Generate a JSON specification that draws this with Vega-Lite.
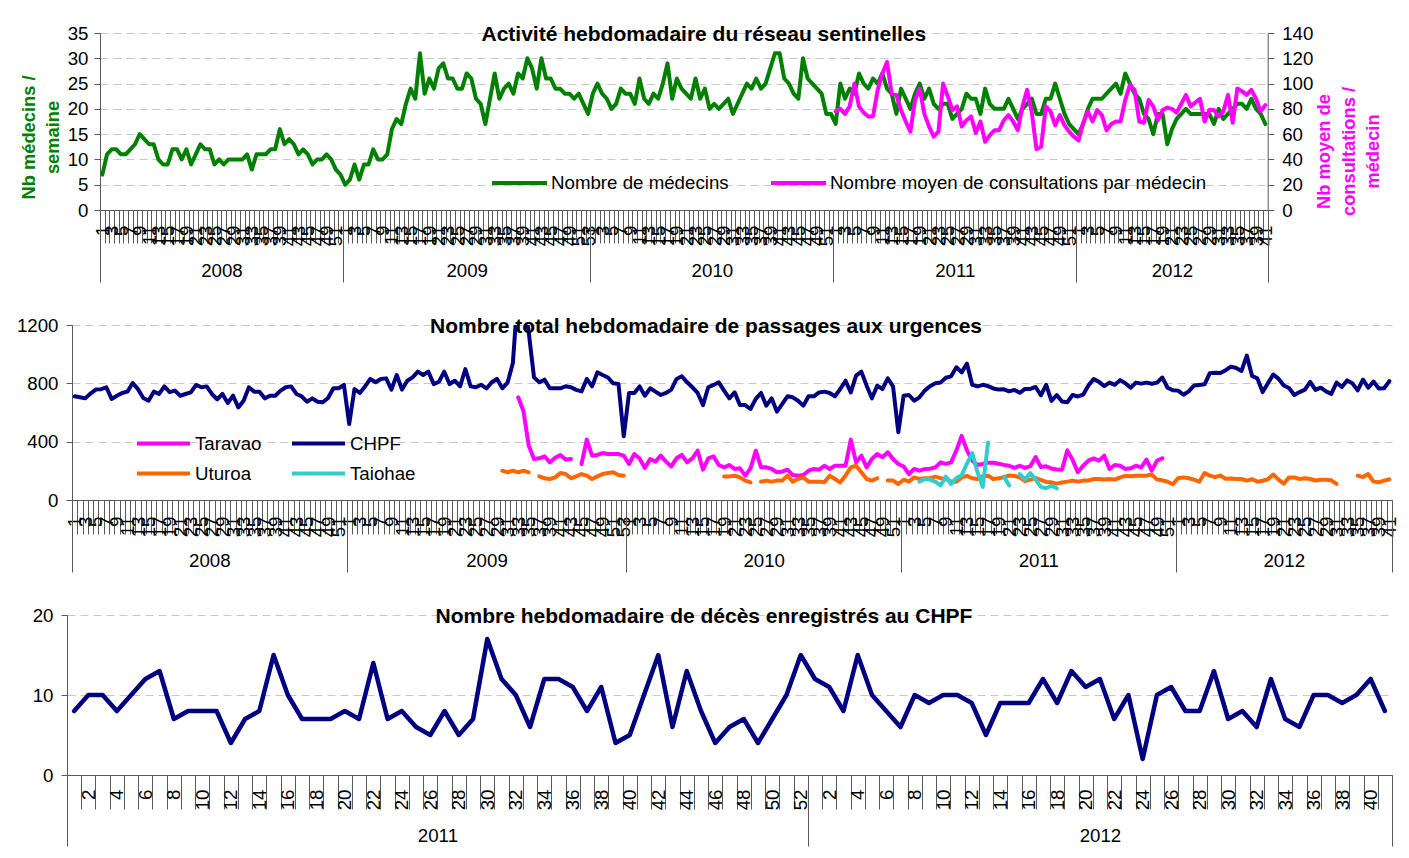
{
  "$schema": "https://vega.github.io/schema/vega-lite/v6.json",
  "background": "white",
  "padding": {"left": 16, "top": 24, "right": 5, "bottom": 5},
  "spacing": 33,
  "resolve": {"scale": {"color": "independent"}, "legend": {"color": "independent"}},
  "config": {
    "font": "Liberation Sans",
    "view": {"stroke": null},
    "axis": {"labelFont": "Liberation Sans", "labelFontSize": 18.7, "labelColor": "#000000", "titleFont": "Liberation Sans", "domainColor": "#595959", "tickColor": "#595959", "gridColor": "#c8c8c8", "gridDash": [8, 5]},
    "legend": {"labelFont": "Liberation Sans", "labelFontSize": 18.7, "labelColor": "#000000", "labelLimit": 500},
    "title": {"font": "Liberation Sans", "fontSize": 21, "fontWeight": "bold", "color": "#000000", "anchor": "middle", "frame": "group", "baseline": "middle", "offset": -21},
    "line": {"strokeWidth": 4, "strokeJoin": "round", "strokeCap": "round"}
  },
  "datasets": {
    "w": [
{"i":0,"g":7,"c":711},{"i":1,"g":11,"c":704},{"i":2,"g":12,"c":697},{"i":3,"g":12,"c":730},{"i":4,"g":11,"c":757},{"i":5,"g":11,"c":760},{"i":6,"g":12,"c":773},{"i":7,"g":13,"c":693},{"i":8,"g":15,"c":715},{"i":9,"g":14,"c":734},
{"i":10,"g":13,"c":743},{"i":11,"g":13,"c":802},{"i":12,"g":10,"c":760},{"i":13,"g":9,"c":700},{"i":14,"g":9,"c":681},{"i":15,"g":12,"c":743},{"i":16,"g":12,"c":727},{"i":17,"g":10,"c":779},{"i":18,"g":12,"c":740},{"i":19,"g":9,"c":750},
{"i":20,"g":11,"c":715},{"i":21,"g":13,"c":727},{"i":22,"g":12,"c":738},{"i":23,"g":12,"c":789},{"i":24,"g":9,"c":773},{"i":25,"g":10,"c":779},{"i":26,"g":9,"c":727},{"i":27,"g":10,"c":690},{"i":28,"g":10,"c":727},{"i":29,"g":10,"c":665},
{"i":30,"g":10,"c":715},{"i":31,"g":11,"c":635},{"i":32,"g":8,"c":681},{"i":33,"g":11,"c":773},{"i":34,"g":11,"c":743},{"i":35,"g":11,"c":743},{"i":36,"g":12,"c":697},{"i":37,"g":12,"c":715},{"i":38,"g":16,"c":715},{"i":39,"g":13,"c":750},
{"i":40,"g":14,"c":773},{"i":41,"g":13,"c":779},{"i":42,"g":11,"c":727},{"i":43,"g":12,"c":711},{"i":44,"g":11,"c":674},{"i":45,"g":9,"c":697},{"i":46,"g":10,"c":674},{"i":47,"g":10,"c":670},{"i":48,"g":11,"c":700},{"i":49,"g":10,"c":766},
{"i":50,"g":8,"c":766},{"i":51,"g":7,"c":789},
{"i":52,"g":5,"c":521},{"i":53,"g":6,"c":761},{"i":54,"g":9,"c":734},{"i":55,"g":6,"c":779},{"i":56,"g":9,"c":830},{"i":57,"g":9,"c":807},{"i":58,"g":12,"c":830},{"i":59,"g":10,"c":834},
{"i":60,"g":10,"c":757},{"i":61,"g":11,"c":857},{"i":62,"g":16,"c":757},{"i":63,"g":18,"c":818},{"i":64,"g":17,"c":841},{"i":65,"g":21,"c":880},{"i":66,"g":24,"c":857},{"i":67,"g":22,"c":880},{"i":68,"g":31,"c":795},{"i":69,"g":23,"c":811},
{"i":70,"g":26,"c":880},{"i":71,"g":24,"c":795},{"i":72,"g":28,"c":818},{"i":73,"g":29,"c":779},{"i":74,"g":26,"c":898},{"i":75,"g":26,"c":779},{"i":76,"g":24,"c":773},{"i":77,"g":24,"c":790},{"i":78,"g":27,"c":765},{"i":79,"g":26,"c":807},
{"i":80,"g":22,"c":830},{"i":81,"g":21,"c":766,"u":201},{"i":82,"g":17,"c":805,"u":190},{"i":83,"g":22,"c":940,"u":201},{"i":84,"g":27,"c":1450,"r":704,"u":190},{"i":85,"g":22,"c":1400,"r":610,"u":201},{"i":86,"g":24,"c":1150,"r":373,"u":190},{"i":87,"g":25,"c":841,"r":281},{"i":88,"g":23,"c":807,"r":286,"u":162},{"i":89,"g":27,"c":825,"r":299,"u":149},
{"i":90,"g":26,"c":766,"r":258,"u":144},{"i":91,"g":30,"c":766,"r":290,"u":155},{"i":92,"g":28,"c":766,"r":309,"u":185},{"i":93,"g":24,"c":780,"r":277,"u":178},{"i":94,"g":30,"c":773,"r":281,"u":149},{"i":95,"g":26,"c":755,"u":162},{"i":96,"g":26,"c":745,"r":247,"u":178},{"i":97,"g":24,"c":830,"r":414,"u":167},{"i":98,"g":24,"c":779,"r":304,"u":144},{"i":99,"g":23,"c":875,"r":309,"u":162},
{"i":100,"g":23,"c":857,"r":322,"u":178},{"i":101,"g":22,"c":840,"r":315,"u":185},{"i":102,"g":23,"c":800,"r":315,"u":190},{"i":103,"g":21,"c":795,"r":315,"u":171},{"i":104,"g":19,"c":437,"r":304,"u":167},
{"i":105,"g":23,"c":734,"r":247},{"i":106,"g":25,"c":734,"r":315},{"i":107,"g":23,"c":779,"r":285},{"i":108,"g":22,"c":715,"r":220},{"i":109,"g":20,"c":766,"r":281},
{"i":110,"g":21,"c":743,"r":263},{"i":111,"g":24,"c":720,"r":304},{"i":112,"g":23,"c":734,"r":263},{"i":113,"g":23,"c":757,"r":230},{"i":114,"g":21,"c":830,"r":286},{"i":115,"g":26,"c":848,"r":309},{"i":116,"g":22,"c":807,"r":258},{"i":117,"g":21,"c":773,"r":286},{"i":118,"g":23,"c":734,"r":338},{"i":119,"g":22,"c":651,"r":208},
{"i":120,"g":25,"c":773,"r":286},{"i":121,"g":29,"c":789,"r":299},{"i":122,"g":22,"c":807,"r":240},{"i":123,"g":26,"c":750,"r":224,"u":162},{"i":124,"g":24,"c":697,"r":240,"u":162},{"i":125,"g":23,"c":738,"r":213,"u":167},{"i":126,"g":22,"c":651,"r":217,"u":155},{"i":127,"g":26,"c":651,"r":167,"u":133},{"i":128,"g":22,"c":624,"r":217,"u":121},{"i":129,"g":24,"c":693,"r":338},
{"i":130,"g":20,"c":734,"r":224,"u":126},{"i":131,"g":21,"c":647,"r":224,"u":133},{"i":132,"g":20,"c":697,"r":213,"u":126},{"i":133,"g":21,"c":606,"r":190,"u":133},{"i":134,"g":22,"c":658,"r":194,"u":133},{"i":135,"g":19,"c":711,"r":208,"u":167},{"i":136,"g":21,"c":704,"r":171,"u":126},{"i":137,"g":23,"c":681,"r":167,"u":144},{"i":138,"g":25,"c":647,"r":171,"u":155},{"i":139,"g":24,"c":711,"r":201,"u":126},
{"i":140,"g":26,"c":711,"r":213,"u":126},{"i":141,"g":24,"c":738,"r":208,"u":126},{"i":142,"g":25,"c":743,"r":235,"u":121},{"i":143,"g":28,"c":734,"r":213,"u":167},{"i":144,"g":31,"c":711,"r":235,"u":144},{"i":145,"g":31,"c":761,"r":235,"u":121},{"i":146,"g":26,"c":818,"r":235,"u":167},{"i":147,"g":25,"c":738,"r":414,"u":224},{"i":148,"g":23,"c":853,"r":258,"u":235},{"i":149,"g":22,"c":880,"r":304,"u":190},
{"i":150,"g":30,"c":784,"r":224,"u":144},{"i":151,"g":26,"c":697,"r":281,"u":133},{"i":152,"g":25,"c":784,"r":315,"u":149},{"i":153,"g":24,"c":761,"r":293},{"i":154,"g":23,"c":834,"r":327,"u":133},{"i":155,"g":19,"c":779,"r":281,"u":133},{"i":156,"g":19,"c":464,"r":247,"u":110},
{"i":157,"g":17,"m":78,"c":715,"r":230,"u":139},{"i":158,"g":25,"m":80,"c":720,"r":178,"u":126},{"i":159,"g":22,"m":76,"c":681,"r":213,"u":155},
{"i":160,"g":24,"m":82,"c":704,"r":201,"u":144,"h":126},{"i":161,"g":23,"m":100,"c":750,"r":212,"u":150,"h":144},{"i":162,"g":27,"m":82,"c":780,"r":215,"u":150,"h":140},{"i":163,"g":25,"m":77,"c":800,"r":224,"u":160,"h":126},{"i":164,"g":24,"m":74,"c":805,"r":258,"u":150,"h":100},{"i":165,"g":26,"m":74,"c":838,"r":248,"u":144,"h":160},{"i":166,"g":25,"m":95,"c":848,"r":258,"u":126,"h":110},{"i":167,"g":27,"m":108,"c":910,"r":340,"u":126,"h":150},{"i":168,"g":24,"m":117,"c":875,"r":440,"u":155,"h":170},{"i":169,"g":23,"m":92,"c":935,"r":340,"u":165,"h":250},
{"i":170,"g":19,"m":91,"c":790,"r":270,"u":149,"h":322},{"i":171,"g":24,"m":79,"c":779,"r":240,"u":144,"h":190},{"i":172,"g":22,"m":70,"c":790,"r":247,"u":162,"h":90},{"i":173,"g":20,"m":62,"c":781,"r":256,"u":167,"h":395},{"i":174,"g":23,"m":87,"c":765,"r":255,"u":144},{"i":175,"g":25,"m":96,"c":757,"r":248,"u":149},{"i":176,"g":22,"m":76,"c":759,"r":241,"u":155,"h":160},{"i":177,"g":24,"m":66,"c":745,"r":235,"u":168,"h":100},{"i":178,"g":21,"m":58,"c":755,"r":220,"u":165},{"i":179,"g":20,"m":62,"c":735,"r":235,"u":155,"h":178},
{"i":180,"g":21,"m":100,"c":762,"r":220,"u":130,"h":140},{"i":181,"g":21,"m":90,"c":762,"r":232,"u":140,"h":185},{"i":182,"g":18,"m":79,"c":775,"r":295,"u":150,"h":140},{"i":183,"g":19,"m":82,"c":718,"r":226,"u":138,"h":90},{"i":184,"g":20,"m":66,"c":790,"r":231,"u":124,"h":80},{"i":185,"g":23,"m":71,"c":680,"r":216,"u":121,"h":98},{"i":186,"g":22,"m":74,"c":720,"r":209,"u":112,"h":80},{"i":187,"g":22,"m":61,"c":675,"r":208,"u":120},{"i":188,"g":19,"m":70,"c":670,"r":340,"u":126},{"i":189,"g":24,"m":54,"c":720,"r":275,"u":133},
{"i":190,"g":21,"m":59,"c":710,"r":190,"u":126},{"i":191,"g":20,"m":63,"c":722,"r":235,"u":133},{"i":192,"g":20,"m":63,"c":785,"r":270,"u":133},{"i":193,"g":20,"m":71,"c":830,"r":285,"u":144},{"i":194,"g":22,"m":75,"c":810,"r":270,"u":144},{"i":195,"g":20,"m":70,"c":781,"r":304,"u":140},{"i":196,"g":18,"m":63,"c":805,"r":213,"u":144},{"i":197,"g":20,"m":82,"c":790,"r":240,"u":140},{"i":198,"g":21,"m":95,"c":822,"r":235,"u":155},{"i":199,"g":22,"m":77,"c":800,"r":213,"u":165},
{"i":200,"g":19,"m":48,"c":770,"r":217,"u":163},{"i":201,"g":19,"m":50,"c":805,"r":235,"u":167},{"i":202,"g":22,"m":82,"c":798,"r":224,"u":167},{"i":203,"g":22,"m":78,"c":805,"r":277,"u":167},{"i":204,"g":25,"m":67,"c":797,"r":201,"u":175},{"i":205,"g":22,"m":75,"c":805,"r":270,"u":140},{"i":206,"g":19,"m":67,"c":840,"r":286,"u":135},{"i":207,"g":17,"m":62,"c":770,"u":125},{"i":208,"g":16,"m":58,"c":752,"u":108},
{"i":209,"g":15,"m":55,"c":750,"u":150},{"i":210,"g":17,"m":69,"c":722,"u":155},{"i":211,"g":20,"m":78,"c":745,"u":149},{"i":212,"g":22,"m":70,"c":785,"u":140},{"i":213,"g":22,"m":79,"c":789,"u":125},{"i":214,"g":22,"m":75,"c":793,"u":185},{"i":215,"g":23,"m":63,"c":870,"u":167},{"i":216,"g":24,"m":68,"c":873,"u":157},{"i":217,"g":25,"m":70,"c":871,"u":168},{"i":218,"g":23,"m":70,"c":890,"u":145},{"i":219,"g":27,"m":87,"c":915,"u":148},
{"i":220,"g":25,"m":99,"c":905,"u":144},{"i":221,"g":23,"m":95,"c":885,"u":144},{"i":222,"g":22,"m":70,"c":990,"u":133},{"i":223,"g":19,"m":69,"c":850,"u":142},{"i":224,"g":18,"m":87,"c":834,"u":126},{"i":225,"g":15,"m":82,"c":740,"u":132},{"i":226,"g":19,"m":71,"c":800,"u":142},{"i":227,"g":19,"m":79,"c":860,"u":175},{"i":228,"g":13,"m":81,"c":832,"u":140},{"i":229,"g":16,"m":80,"c":785,"u":112},
{"i":230,"g":18,"m":77,"c":768,"u":155},{"i":231,"g":19,"m":84,"c":720,"u":155},{"i":232,"g":20,"m":91,"c":740,"u":144},{"i":233,"g":19,"m":82,"c":757,"u":149},{"i":234,"g":19,"m":85,"c":810,"u":144},{"i":235,"g":19,"m":88,"c":755,"u":134},{"i":236,"g":19,"m":70,"c":770,"u":139},{"i":237,"g":19,"m":79,"c":745,"u":139},{"i":238,"g":17,"m":79,"c":728,"u":135},{"i":239,"g":20,"m":74,"c":805,"u":110},
{"i":240,"g":18,"m":78,"c":775},{"i":241,"g":19,"m":91,"c":820},{"i":242,"g":20,"m":69,"c":800},{"i":243,"g":21,"m":96,"c":752,"u":167},{"i":244,"g":21,"m":94,"c":825,"u":157},{"i":245,"g":20,"m":91,"c":770,"u":178},{"i":246,"g":22,"m":95,"c":812,"u":126},{"i":247,"g":20,"m":88,"c":765,"u":121},{"i":248,"g":19,"m":78,"c":766,"u":133},{"i":249,"g":17,"m":83,"c":815,"u":142}
    ],
    "d": [
{"i":0,"v":8},{"i":1,"v":10},{"i":2,"v":10},{"i":3,"v":8},{"i":4,"v":10},{"i":5,"v":12},{"i":6,"v":13},{"i":7,"v":7},{"i":8,"v":8},{"i":9,"v":8},
{"i":10,"v":8},{"i":11,"v":4},{"i":12,"v":7},{"i":13,"v":8},{"i":14,"v":15},{"i":15,"v":10},{"i":16,"v":7},{"i":17,"v":7},{"i":18,"v":7},{"i":19,"v":8},
{"i":20,"v":7},{"i":21,"v":14},{"i":22,"v":7},{"i":23,"v":8},{"i":24,"v":6},{"i":25,"v":5},{"i":26,"v":8},{"i":27,"v":5},{"i":28,"v":7},{"i":29,"v":17},
{"i":30,"v":12},{"i":31,"v":10},{"i":32,"v":6},{"i":33,"v":12},{"i":34,"v":12},{"i":35,"v":11},{"i":36,"v":8},{"i":37,"v":11},{"i":38,"v":4},{"i":39,"v":5},
{"i":40,"v":10},{"i":41,"v":15},{"i":42,"v":6},{"i":43,"v":13},{"i":44,"v":8},{"i":45,"v":4},{"i":46,"v":6},{"i":47,"v":7},{"i":48,"v":4},{"i":49,"v":7},
{"i":50,"v":10},{"i":51,"v":15},
{"i":52,"v":12},{"i":53,"v":11},{"i":54,"v":8},{"i":55,"v":15},{"i":56,"v":10},{"i":57,"v":8},{"i":58,"v":6},{"i":59,"v":10},
{"i":60,"v":9},{"i":61,"v":10},{"i":62,"v":10},{"i":63,"v":9},{"i":64,"v":5},{"i":65,"v":9},{"i":66,"v":9},{"i":67,"v":9},{"i":68,"v":12},{"i":69,"v":9},
{"i":70,"v":13},{"i":71,"v":11},{"i":72,"v":12},{"i":73,"v":7},{"i":74,"v":10},{"i":75,"v":2},{"i":76,"v":10},{"i":77,"v":11},{"i":78,"v":8},{"i":79,"v":8},
{"i":80,"v":13},{"i":81,"v":7},{"i":82,"v":8},{"i":83,"v":6},{"i":84,"v":12},{"i":85,"v":7},{"i":86,"v":6},{"i":87,"v":10},{"i":88,"v":10},{"i":89,"v":9},
{"i":90,"v":10},{"i":91,"v":12},{"i":92,"v":8}
    ]
  },
  "vconcat": [
    {
      "title": {"text": "Activité hebdomadaire du réseau sentinelles", "dx": 34},
      "width": 1195.7,
      "height": 177,
      "data": {"name": "w"},
      "layer": [
        {
          "mark": {"type": "line"},
          "encoding": {
            "x": {"field": "i", "type": "quantitative", "scale": {"domain": [-0.5, 249.5], "range": [28, 1195.7], "nice": false, "zero": false}, "axis": null},
            "y": {"field": "g", "type": "quantitative",
              "scale": {"domain": [0, 35], "nice": false},
              "axis": {"orient": "left", "offset": -28, "values": [0, 5, 10, 15, 20, 25, 30, 35], "grid": true, "tickSize": 6, "labelPadding": 6,
                "title": ["Nb médecins /", "semaine"], "titleColor": "#008000", "titleFontSize": 18.3, "titleFontWeight": "bold",
                "titleX": -62, "titleY": 104, "titleAngle": 270, "titleBaseline": "bottom", "titleAlign": "center", "titleLineHeight": 24}},
            "color": {"datum": "Nombre de médecins",
              "scale": {"domain": ["Nombre de médecins", "Nombre moyen de consultations par médecin"], "range": ["#008000", "#FF00FF"]},
              "legend": {"orient": "none", "legendX": 418, "legendY": 139, "direction": "horizontal", "title": null, "symbolType": "stroke", "symbolSize": 3025, "symbolStrokeWidth": 5, "clipHeight": 22, "columnPadding": 40, "labelOffset": 2, "labelLimit": 500}}
          }
        },
        {
          "mark": {"type": "line"},
          "encoding": {
            "x": {"field": "i", "type": "quantitative", "scale": {"domain": [-0.5, 249.5], "range": [28, 1195.7], "nice": false, "zero": false}, "axis": null},
            "y": {"field": "m", "type": "quantitative",
              "scale": {"domain": [0, 140], "nice": false},
              "axis": {"orient": "right", "values": [0, 20, 40, 60, 80, 100, 120, 140], "grid": false, "tickSize": 6, "labelPadding": 8,
                "title": ["Nb moyen de", "consultations /", "médecin"], "titleColor": "#FF00FF", "titleFontSize": 18.3, "titleFontWeight": "bold",
                "titleX": 48, "titleY": 118, "titleAngle": 270, "titleBaseline": "top", "titleAlign": "center", "titleLineHeight": 24.5}},
            "color": {"datum": "Nombre moyen de consultations par médecin"}
          }
        },
        {
          "mark": {"type": "point", "opacity": 0, "clip": true},
          "encoding": {
            "x": {"field": "i", "type": "quantitative", "scale": {"domain": [0, 250], "range": [28, 1195.7], "nice": false, "zero": false},
              "axis": {"orient": "bottom", "title": null, "grid": false, "domain": true, "labels": false, "tickCount": 250, "tickSize": 33}},
            "y": {"field": "g", "type": "quantitative", "scale": {"domain": [0, 35], "nice": false}, "axis": null}
          }
        },
        {
          "mark": {"type": "point", "opacity": 0, "clip": true},
          "encoding": {
            "x": {"field": "i", "type": "quantitative", "scale": {"domain": [-0.5, 249.5], "range": [28, 1195.7], "nice": false, "zero": false},
              "axis": {"orient": "bottom", "title": null, "grid": false, "domain": false, "ticks": false, "tickSize": 0, "tickCount": 250, "labelAngle": 270, "labelPadding": 15, "labelOverlap": false, "labelFlush": false,
                "labelExpr": "(datum.value < 52 ? datum.value + 1 : datum.value < 105 ? datum.value - 51 : datum.value < 157 ? datum.value - 104 : datum.value < 209 ? datum.value - 156 : datum.value - 208) % 2 == 1 ? '' + (datum.value < 52 ? datum.value + 1 : datum.value < 105 ? datum.value - 51 : datum.value < 157 ? datum.value - 104 : datum.value < 209 ? datum.value - 156 : datum.value - 208) : ''"}},
            "y": {"field": "g", "type": "quantitative", "scale": {"domain": [0, 35], "nice": false}, "axis": null}
          }
        },
        {
          "mark": {"type": "point", "opacity": 0, "clip": true},
          "encoding": {
            "x": {"field": "i", "type": "quantitative", "scale": {"domain": [-0.5, 249.5], "range": [28, 1195.7], "nice": false, "zero": false},
              "axis": {"orient": "bottom", "title": null, "grid": false, "domain": false, "values": [-0.5, 25.5, 51.5, 78, 104.5, 130.5, 156.5, 182.5, 208.5, 229, 249.5],
                "labelExpr": "datum.value == 25.5 ? '2008' : datum.value == 78 ? '2009' : datum.value == 130.5 ? '2010' : datum.value == 182.5 ? '2011' : datum.value == 229 ? '2012' : ''",
                "tickSize": 72, "tickOpacity": {"condition": {"test": "datum.value == 25.5 || datum.value == 78 || datum.value == 130.5 || datum.value == 182.5 || datum.value == 229", "value": 0}, "value": 1},
                "labelAngle": 0, "labelAlign": "center", "labelBaseline": "top", "labelPadding": -21, "labelOverlap": false, "labelFlush": false}},
            "y": {"field": "g", "type": "quantitative", "scale": {"domain": [0, 35], "nice": false}, "axis": null}
          }
        }
      ],
      "resolve": {"scale": {"x": "independent", "y": "independent"}}
    },
    {
      "title": {"text": "Nombre total hebdomadaire de passages aux urgences", "dx": -26},
      "width": 1320,
      "height": 175,
      "data": {"name": "w"},
      "layer": [
        {
          "mark": {"type": "line", "clip": true},
          "encoding": {
            "x": {"field": "i", "type": "quantitative", "scale": {"domain": [-0.5, 249.5], "nice": false, "zero": false}, "axis": null},
            "y": {"field": "c", "type": "quantitative", "title": null,
              "scale": {"domain": [0, 1200], "nice": false},
              "axis": {"orient": "left", "values": [0, 200, 400, 600, 800, 1000, 1200], "format": "d", "grid": true, "tickSize": 6, "labelPadding": 8}},
            "color": {"datum": "CHPF",
              "scale": {"domain": ["Taravao", "Uturoa", "CHPF", "Taiohae"], "range": ["#FF00FF", "#FF6600", "#000080", "#33CCCC"]},
              "legend": {"orient": "none", "legendX": 63, "legendY": 108, "columns": 2, "title": null, "symbolType": "stroke", "symbolSize": 2809, "symbolStrokeWidth": 5, "clipHeight": 21, "columnPadding": 28, "rowPadding": 9, "labelOffset": 3}}
          }
        },
        {
          "mark": {"type": "line"},
          "encoding": {
            "x": {"field": "i", "type": "quantitative", "scale": {"domain": [-0.5, 249.5], "nice": false, "zero": false}, "axis": null},
            "y": {"field": "r", "type": "quantitative", "title": null, "scale": {"domain": [0, 1200], "nice": false}},
            "color": {"datum": "Taravao"}
          }
        },
        {
          "mark": {"type": "line"},
          "encoding": {
            "x": {"field": "i", "type": "quantitative", "scale": {"domain": [-0.5, 249.5], "nice": false, "zero": false}, "axis": null},
            "y": {"field": "u", "type": "quantitative", "title": null, "scale": {"domain": [0, 1200], "nice": false}},
            "color": {"datum": "Uturoa"}
          }
        },
        {
          "mark": {"type": "line"},
          "encoding": {
            "x": {"field": "i", "type": "quantitative", "scale": {"domain": [-0.5, 249.5], "nice": false, "zero": false}, "axis": null},
            "y": {"field": "h", "type": "quantitative", "title": null, "scale": {"domain": [0, 1200], "nice": false}},
            "color": {"datum": "Taiohae"}
          }
        },
        {
          "mark": {"type": "point", "opacity": 0, "clip": true},
          "encoding": {
            "x": {"field": "i", "type": "quantitative", "scale": {"domain": [0, 250], "nice": false, "zero": false},
              "axis": {"orient": "bottom", "title": null, "grid": false, "domain": true, "labels": false, "tickCount": 250, "tickSize": 34}},
            "y": {"field": "g", "type": "quantitative", "title": null, "scale": {"domain": [0, 1200], "nice": false}}
          }
        },
        {
          "mark": {"type": "point", "opacity": 0, "clip": true},
          "encoding": {
            "x": {"field": "i", "type": "quantitative", "scale": {"domain": [-0.5, 249.5], "nice": false, "zero": false},
              "axis": {"orient": "bottom", "title": null, "grid": false, "domain": false, "ticks": false, "tickSize": 0, "tickCount": 250, "labelAngle": 270, "labelPadding": 16, "labelOverlap": false, "labelFlush": false,
                "labelExpr": "(datum.value < 52 ? datum.value + 1 : datum.value < 105 ? datum.value - 51 : datum.value < 157 ? datum.value - 104 : datum.value < 209 ? datum.value - 156 : datum.value - 208) % 2 == 1 ? '' + (datum.value < 52 ? datum.value + 1 : datum.value < 105 ? datum.value - 51 : datum.value < 157 ? datum.value - 104 : datum.value < 209 ? datum.value - 156 : datum.value - 208) : ''"}},
            "y": {"field": "g", "type": "quantitative", "title": null, "scale": {"domain": [0, 1200], "nice": false}}
          }
        },
        {
          "mark": {"type": "point", "opacity": 0, "clip": true},
          "encoding": {
            "x": {"field": "i", "type": "quantitative", "scale": {"domain": [-0.5, 249.5], "nice": false, "zero": false},
              "axis": {"orient": "bottom", "title": null, "grid": false, "domain": false, "values": [-0.5, 25.5, 51.5, 78, 104.5, 130.5, 156.5, 182.5, 208.5, 229, 249.5],
                "labelExpr": "datum.value == 25.5 ? '2008' : datum.value == 78 ? '2009' : datum.value == 130.5 ? '2010' : datum.value == 182.5 ? '2011' : datum.value == 229 ? '2012' : ''",
                "tickSize": 72, "tickOpacity": {"condition": {"test": "datum.value == 25.5 || datum.value == 78 || datum.value == 130.5 || datum.value == 182.5 || datum.value == 229", "value": 0}, "value": 1},
                "labelAngle": 0, "labelAlign": "center", "labelBaseline": "top", "labelPadding": -21, "labelOverlap": false, "labelFlush": false}},
            "y": {"field": "g", "type": "quantitative", "title": null, "scale": {"domain": [0, 1200], "nice": false}}
          }
        }
      ],
      "resolve": {"scale": {"x": "independent"}}
    },
    {
      "title": {"text": "Nombre hebdomadaire de décès enregistrés au CHPF", "dx": -28},
      "width": 1320,
      "height": 160,
      "data": {"name": "d"},
      "layer": [
        {
          "mark": {"type": "line", "color": "#000080", "strokeWidth": 4.5},
          "encoding": {
            "x": {"field": "i", "type": "quantitative", "scale": {"domain": [-0.5, 92.5], "range": [-5, 1320], "nice": false, "zero": false}, "axis": null},
            "y": {"field": "v", "type": "quantitative", "title": null,
              "scale": {"domain": [0, 20], "nice": false},
              "axis": {"orient": "left", "offset": 5, "values": [0, 5, 10, 15, 20], "grid": true, "tickSize": 6, "labelPadding": 8}}
          }
        },
        {
          "mark": {"type": "point", "opacity": 0, "clip": true},
          "encoding": {
            "x": {"field": "i", "type": "quantitative", "scale": {"domain": [0, 93], "range": [-5, 1320], "nice": false, "zero": false},
              "axis": {"orient": "bottom", "title": null, "grid": false, "domain": true, "labels": false, "tickCount": 93, "tickSize": 34}},
            "y": {"field": "v", "type": "quantitative", "title": null, "scale": {"domain": [0, 20], "nice": false}}
          }
        },
        {
          "mark": {"type": "point", "opacity": 0, "clip": true},
          "encoding": {
            "x": {"field": "i", "type": "quantitative", "scale": {"domain": [-0.5, 92.5], "range": [-5, 1320], "nice": false, "zero": false},
              "axis": {"orient": "bottom", "title": null, "grid": false, "domain": false, "ticks": false, "tickSize": 0, "tickCount": 93, "labelAngle": 270, "labelPadding": 14, "labelOverlap": false, "labelFlush": false,
                "labelExpr": "(datum.value < 52 ? datum.value + 1 : datum.value - 51) % 2 == 0 ? '' + (datum.value < 52 ? datum.value + 1 : datum.value - 51) : ''"}},
            "y": {"field": "v", "type": "quantitative", "title": null, "scale": {"domain": [0, 20], "nice": false}}
          }
        },
        {
          "mark": {"type": "point", "opacity": 0, "clip": true},
          "encoding": {
            "x": {"field": "i", "type": "quantitative", "scale": {"domain": [-0.5, 92.5], "range": [-5, 1320], "nice": false, "zero": false},
              "axis": {"orient": "bottom", "title": null, "grid": false, "domain": false, "values": [-0.5, 25.5, 51.5, 72, 92.5],
                "labelExpr": "datum.value == 25.5 ? '2011' : datum.value == 72 ? '2012' : ''",
                "tickSize": 71, "tickOpacity": {"condition": {"test": "datum.value == 25.5 || datum.value == 72", "value": 0}, "value": 1},
                "labelAngle": 0, "labelAlign": "center", "labelBaseline": "top", "labelPadding": -20, "labelOverlap": false, "labelFlush": false}},
            "y": {"field": "v", "type": "quantitative", "title": null, "scale": {"domain": [0, 20], "nice": false}}
          }
        }
      ],
      "resolve": {"scale": {"x": "independent"}}
    }
  ]
}
